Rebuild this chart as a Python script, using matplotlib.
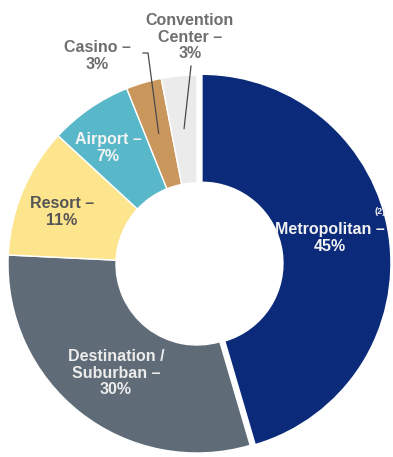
import matplotlib.pyplot as plt
import numpy as np

plt.rcParams['font.family'] = ['Liberation Sans', 'DejaVu Sans']

segments = ['Metropolitan', 'Destination /\nSuburban', 'Resort', 'Airport', 'Casino', 'Convention\nCenter']
shares = [45, 30, 11, 7, 3, 3]
colors = ['#0b2b7a', '#5f6c77', '#fde58e', '#58b7c8', '#c9965c', '#ebebeb']
text_colors = ['#f2f2f2', '#ececec', '#555555', '#f4f4f4', '#6e6e6e', '#6e6e6e']

W, H = 393, 457
fig = plt.figure(figsize=(W / 100, H / 100), dpi=100)
ax = fig.add_axes([0, 0, 1, 1])

cx, cy = 197, H - 264
R = 189
# explode is in data units (pixels here)
wedges, _ = ax.pie(shares, colors=colors, startangle=90, counterclock=False,
                   radius=R, center=(cx, cy), explode=[5, 0, 0, 0, 0, 0],
                   wedgeprops=dict(width=108, edgecolor='white', linewidth=1.0),
                   frame=True)
ax.set_xlim(0, W)
ax.set_ylim(0, H)
ax.set_aspect('equal')
ax.axis('off')

fs = 11.5
# labels drawn inside the ring
inside = {0: (330, 238), 1: (116, 373), 2: (62, 212), 3: (108, 148)}
for i, (x, y) in inside.items():
    ax.text(x, H - y, f'{segments[i]} \u2013\n{shares[i]}%', ha='center', va='center',
            fontsize=fs, fontweight='bold', color=text_colors[i], linespacing=1.15)
ax.text(380, H - 211, '(2)', ha='center', va='center', fontsize=6.5,
        fontweight='bold', color='#f2f2f2')

# labels outside with leader lines
outside = {4: (97, 56), 5: (190, 37)}
for i, (x, y) in outside.items():
    ax.text(x, H - y, f'{segments[i]} \u2013\n{shares[i]}%', ha='center', va='center',
            fontsize=fs, fontweight='bold', color=text_colors[i], linespacing=1.15)

for i in (4, 5):
    w = wedges[i]
    mid = np.deg2rad((w.theta1 + w.theta2) / 2)
    ex, ey = cx + 0.72 * R * np.cos(mid), cy + 0.72 * R * np.sin(mid)
    if i == 4:
        xs, ys = [143, 148, ex], [H - 53, H - 53, ey]
    else:
        xs, ys = [191, ex], [H - 66, ey]
    ax.plot(xs, ys, color='#4a4a4a', lw=0.9)

fig.savefig('out.png', dpi=100)
